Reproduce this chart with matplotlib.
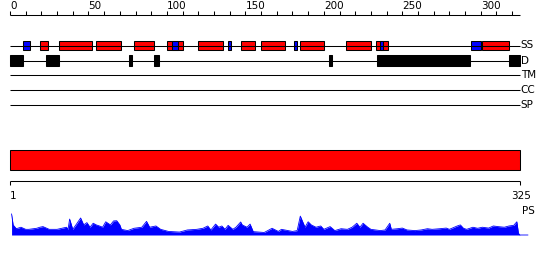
import matplotlib
matplotlib.use('Agg')
import matplotlib.pyplot as plt

seq_len = 325

# secondary structure (start, end) in residues
helix_red = [(19, 24), (31, 52), (55, 71), (79, 92), (100, 110), (120, 136),
             (147, 156), (160, 175), (185, 200), (214, 230), (233, 241), (301, 318)]
strand_blue = [(8, 13), (103, 107), (139, 141), (181, 183), (236, 238), (294, 300)]
# disorder segments
disorder = [(0, 8), (23, 31), (76, 78), (92, 95), (203, 205), (234, 293), (318, 325)]
# domain bar
domain = [(0, 325)]

# profile (residue, value)
ps_pos = [1, 2, 4, 7, 10, 12, 17, 19, 21, 25, 30, 33, 36, 37, 38, 40, 42, 45, 47, 49,
          51, 53, 55, 57, 59, 61, 64, 66, 68, 70, 71, 75, 79, 84, 87, 89, 93, 96, 101,
          108, 113, 119, 123, 126, 128, 131, 133, 135, 137, 139, 142, 144, 147, 148,
          151, 153, 155, 162, 167, 171, 173, 180, 183, 185, 188, 190, 192, 195, 198,
          200, 204, 207, 211, 215, 218, 221, 223, 225, 228, 230, 236, 239, 242, 243,
          247, 250, 253, 258, 262, 266, 269, 274, 278, 280, 285, 287, 289, 291, 295,
          298, 301, 305, 308, 311, 315, 318, 321, 323, 324, 325, 330]
ps_val = [100, 48, 30, 37, 27, 27, 32, 37, 40, 27, 27, 32, 37, 27, 76, 27, 48, 81, 48, 59,
          37, 56, 48, 43, 37, 63, 48, 67, 68, 48, 27, 21, 32, 37, 65, 37, 43, 27, 17,
          14, 24, 27, 32, 43, 24, 52, 37, 43, 27, 46, 27, 37, 62, 48,
          37, 52, 16, 12, 32, 17, 27, 17, 21, 90, 37, 63, 48, 37, 43,
          27, 40, 21, 30, 27, 37, 56, 37, 56, 37, 27, 21, 24, 56, 27,
          30, 33, 24, 21, 24, 30, 27, 30, 33, 27, 43, 48, 32, 27, 37,
          32, 37, 33, 43, 40, 37, 43, 46, 63, 8, 0, 0]

track_labels = ['SS', 'D', 'TM', 'CC', 'SP']
track_rows = [45.5, 60.5, 75, 90, 105]
ruler_ticks = list(range(0, 321, 10))
ruler_labels = [0, 50, 100, 150, 200, 250, 300]

# residue 0 sits at 10px, residue 325 at 520px
px_per_res = 510.0 / seq_len
xlim = (-10 / px_per_res, 540 / px_per_res)
lw = 0.75
fs = 7.5

fig = plt.figure(figsize=(5.5, 2.6), dpi=100)
ax = fig.add_axes([0, 0, 1, 1])
ax.set_xlim(*xlim)
ax.set_ylim(260, 0)
ax.axis('off')

# top ruler
ax.hlines(15, 0, seq_len, color='black', lw=lw)
ax.vlines(ruler_ticks, 11, 15, color='black', lw=lw)
for t in ruler_labels:
    ax.text(t, 6, str(t), ha='left', va='center', fontsize=fs)

# tracks
for lab, row in zip(track_labels, track_rows):
    ax.hlines(row, 0, seq_len, color='black', lw=lw)
    ax.text(seq_len + 0.5, row, lab, ha='left', va='center', fontsize=fs)

def boxes(segs, row, h, color):
    ax.barh([row] * len(segs), [e - s for s, e in segs], left=[s for s, e in segs],
            height=h, color=color, edgecolor='black', linewidth=lw)

boxes(helix_red, track_rows[0], 9.5, '#ff0000')
boxes(strand_blue, track_rows[0], 9.5, '#0000ff')
boxes(disorder, track_rows[1], 10.5, 'black')
boxes(domain, 160, 20, '#ff0000')

# bottom ruler
ax.hlines(180.5, 0, seq_len, color='black', lw=lw)
ax.vlines([0, seq_len], 180.5, 185, color='black', lw=lw)
ax.text(0, 196, '1', ha='left', va='center', fontsize=fs)
ax.text(seq_len + 7, 196, str(seq_len), ha='right', va='center', fontsize=fs)
ax.text(seq_len + 1, 211, 'PS', ha='left', va='center', fontsize=fs)

# profile
ax2 = fig.add_axes([0, (260 - 235) / 260, 1, 21 / 260])
ax2.set_xlim(*xlim)
ax2.set_ylim(0, 100)
ax2.axis('off')
ax2.fill_between(ps_pos, 0, ps_val, color='#0000ff', lw=0)
ax2.plot(ps_pos, ps_val, color='#0000ff', lw=0.6, clip_on=False)

fig.savefig('out.png', dpi=100)
